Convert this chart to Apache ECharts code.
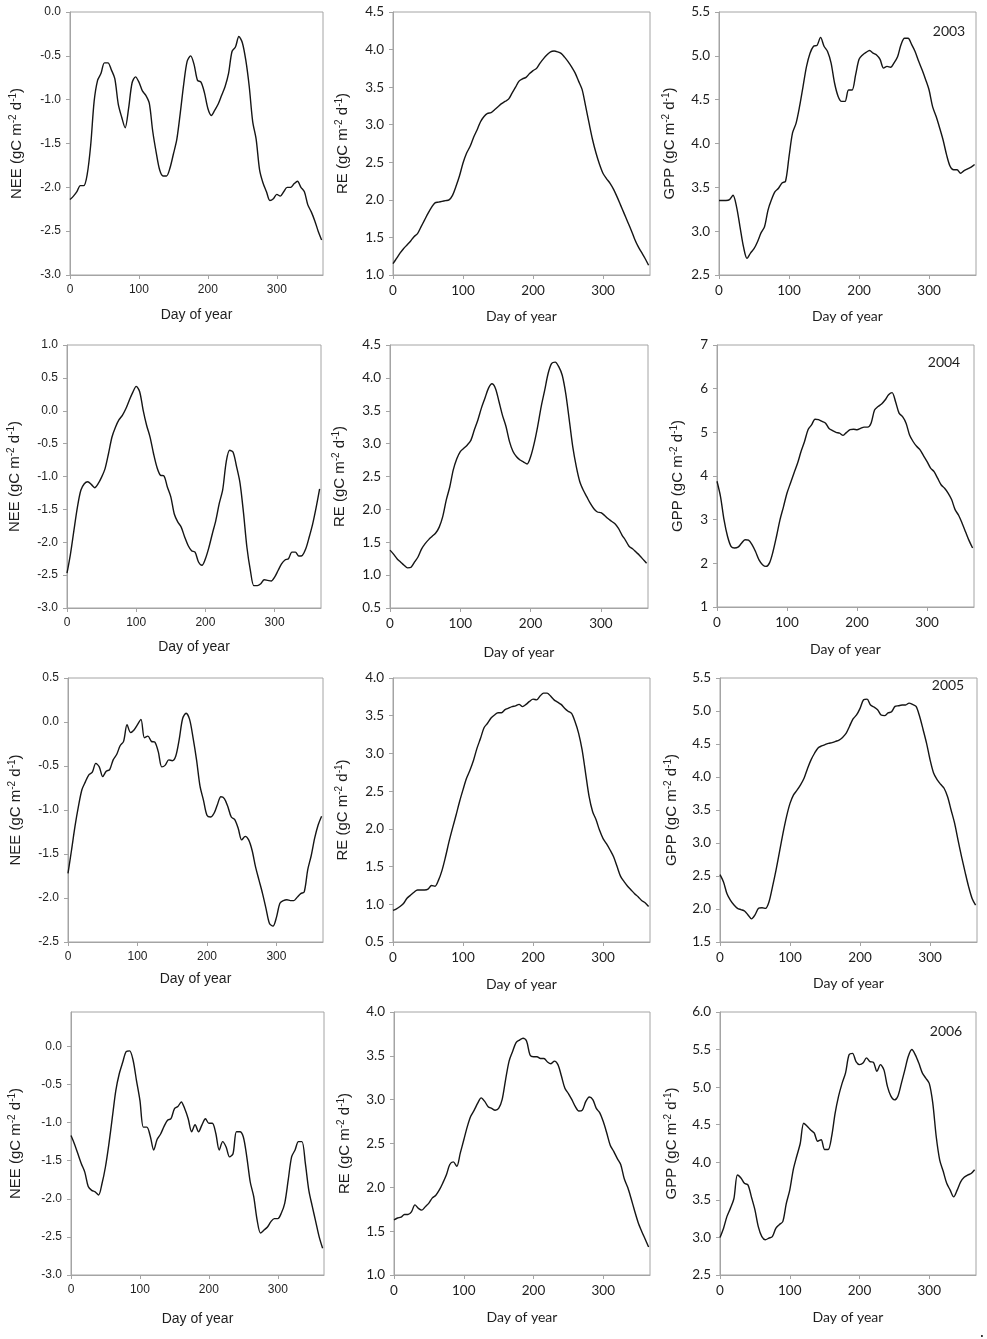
<!DOCTYPE html>
<html>
<head>
<meta charset="utf-8">
<title>NEE / RE / GPP 2003-2006</title>
<script src="https://cdn.jsdelivr.net/npm/echarts@6/dist/echarts.min.js"></script>
<style>
html, body { margin: 0; padding: 0; background: #fff; }
#chart { width: 987px; height: 1339px; }
</style>
</head>
<body>
<div id="chart"></div>
<script>
// day of year, one reading every 5 days
var days = [0, 5, 10, 15, 20, 25, 30, 35, 40, 45,
    50, 55, 60, 65, 70, 75, 80, 85, 90, 95,
    100, 105, 110, 115, 120, 125, 130, 135, 140, 145,
    150, 155, 160, 165, 170, 175, 180, 185, 190, 195,
    200, 205, 210, 215, 220, 225, 230, 235, 240, 245,
    250, 255, 260, 265, 270, 275, 280, 285, 290, 295,
    300, 305, 310, 315, 320, 325, 330, 335, 340, 345,
    350, 355, 360, 365];

var years = ['2003', '2004', '2005', '2006'];

var nee2003 = [-2.14, -2.10, -2.05, -1.98, -1.98, -1.85, -1.52, -1.02, -0.78, -0.70,
    -0.58, -0.58, -0.66, -0.76, -1.05, -1.20, -1.32, -1.10, -0.81, -0.74,
    -0.80, -0.90, -0.95, -1.04, -1.36, -1.60, -1.80, -1.87, -1.87, -1.78,
    -1.62, -1.45, -1.15, -0.82, -0.56, -0.50, -0.60, -0.78, -0.80, -0.92,
    -1.10, -1.18, -1.12, -1.05, -0.95, -0.85, -0.70, -0.45, -0.40, -0.28,
    -0.35, -0.55, -0.85, -1.25, -1.45, -1.80, -1.95, -2.05, -2.15, -2.13,
    -2.08, -2.10, -2.05, -2.00, -2.00, -1.96, -1.93, -2.00, -2.05, -2.20,
    -2.28, -2.38, -2.50, -2.60];
var re2003 = [1.15, 1.22, 1.29, 1.35, 1.40, 1.45, 1.51, 1.55, 1.64, 1.73,
    1.82, 1.90, 1.96, 1.97, 1.98, 1.99, 2.00, 2.06, 2.18, 2.32,
    2.49, 2.62, 2.71, 2.83, 2.93, 3.04, 3.11, 3.15, 3.16, 3.20,
    3.24, 3.28, 3.31, 3.34, 3.42, 3.50, 3.58, 3.61, 3.63, 3.68,
    3.72, 3.75, 3.82, 3.88, 3.93, 3.97, 3.98, 3.97, 3.95, 3.90,
    3.84, 3.77, 3.69, 3.58, 3.47, 3.25, 3.02, 2.80, 2.62, 2.47,
    2.35, 2.28, 2.22, 2.14, 2.04, 1.93, 1.82, 1.71, 1.60, 1.48,
    1.38, 1.30, 1.22, 1.13];
var gpp2003 = [3.35, 3.35, 3.35, 3.36, 3.41, 3.28, 3.05, 2.82, 2.69, 2.75,
    2.80, 2.88, 2.98, 3.05, 3.24, 3.36, 3.45, 3.49, 3.55, 3.57,
    3.85, 4.12, 4.23, 4.42, 4.65, 4.88, 5.03, 5.11, 5.12, 5.21,
    5.11, 5.05, 4.92, 4.69, 4.54, 4.48, 4.48, 4.61, 4.61, 4.78,
    4.96, 5.01, 5.04, 5.06, 5.03, 5.01, 4.96, 4.86, 4.88, 4.87,
    4.92, 4.99, 5.13, 5.20, 5.20, 5.13, 5.05, 4.94, 4.84, 4.73,
    4.61, 4.42, 4.31, 4.18, 4.04, 3.87, 3.74, 3.70, 3.70, 3.66,
    3.69, 3.71, 3.73, 3.76];

var nee2004 = [-2.47, -2.18, -1.82, -1.47, -1.21, -1.11, -1.08, -1.12, -1.17, -1.11,
    -1.01, -0.88, -0.65, -0.40, -0.25, -0.14, -0.07, 0.03, 0.16, 0.28,
    0.37, 0.29, 0.01, -0.22, -0.40, -0.65, -0.86, -0.98, -0.99, -1.16,
    -1.31, -1.57, -1.69, -1.77, -1.92, -2.05, -2.13, -2.15, -2.30, -2.35,
    -2.25, -2.08, -1.87, -1.67, -1.41, -1.20, -0.78, -0.60, -0.63, -0.85,
    -1.10, -1.55, -2.08, -2.43, -2.66, -2.66, -2.63, -2.57, -2.58, -2.59,
    -2.53, -2.43, -2.33, -2.27, -2.25, -2.15, -2.15, -2.21, -2.20, -2.10,
    -1.92, -1.72, -1.47, -1.19];
var re2004 = [1.38, 1.32, 1.25, 1.20, 1.15, 1.11, 1.12, 1.20, 1.28, 1.40,
    1.48, 1.54, 1.59, 1.64, 1.73, 1.89, 2.14, 2.34, 2.60, 2.77,
    2.88, 2.93, 2.98, 3.05, 3.21, 3.36, 3.54, 3.69, 3.84, 3.91,
    3.84, 3.64, 3.43, 3.26, 3.03, 2.88, 2.80, 2.75, 2.72, 2.69,
    2.80, 3.00, 3.26, 3.56, 3.81, 4.07, 4.22, 4.24, 4.17, 4.04,
    3.76, 3.36, 2.95, 2.65, 2.42, 2.29, 2.19, 2.09, 2.01, 1.96,
    1.95, 1.91, 1.86, 1.82, 1.78, 1.71, 1.61, 1.53, 1.44, 1.40,
    1.35, 1.30, 1.24, 1.18];
var gpp2004 = [3.88, 3.53, 3.00, 2.62, 2.39, 2.35, 2.37, 2.46, 2.54, 2.53,
    2.43, 2.27, 2.08, 1.97, 1.93, 2.01, 2.27, 2.62, 3.00, 3.30,
    3.61, 3.84, 4.07, 4.29, 4.56, 4.79, 5.06, 5.17, 5.30, 5.29,
    5.25, 5.21, 5.09, 5.04, 5.00, 4.98, 4.93, 5.00, 5.06, 5.07,
    5.06, 5.09, 5.12, 5.12, 5.21, 5.51, 5.59, 5.65, 5.74, 5.86,
    5.91, 5.70, 5.44, 5.36, 5.21, 4.94, 4.79, 4.68, 4.60, 4.46,
    4.33, 4.18, 4.10, 3.95, 3.80, 3.72, 3.61, 3.46, 3.23, 3.10,
    2.92, 2.72, 2.52, 2.35];

var nee2005 = [-1.72, -1.46, -1.19, -0.96, -0.77, -0.68, -0.60, -0.57, -0.47, -0.51,
    -0.62, -0.56, -0.54, -0.43, -0.37, -0.27, -0.22, -0.03, -0.12, -0.09,
    -0.03, 0.03, -0.18, -0.16, -0.22, -0.23, -0.34, -0.51, -0.49, -0.43,
    -0.44, -0.39, -0.20, 0.04, 0.10, 0.03, -0.18, -0.43, -0.73, -0.89,
    -1.06, -1.08, -1.04, -0.94, -0.85, -0.87, -0.96, -1.08, -1.11, -1.21,
    -1.34, -1.30, -1.34, -1.46, -1.65, -1.80, -1.95, -2.12, -2.29, -2.32,
    -2.22, -2.06, -2.03, -2.02, -2.03, -2.03, -1.99, -1.95, -1.93, -1.68,
    -1.52, -1.32, -1.17, -1.07];
var re2005 = [0.92, 0.94, 0.97, 1.01, 1.08, 1.12, 1.16, 1.19, 1.19, 1.19,
    1.20, 1.25, 1.24, 1.32, 1.45, 1.63, 1.83, 2.01, 2.18, 2.36,
    2.52, 2.67, 2.78, 2.91, 3.07, 3.20, 3.34, 3.40, 3.47, 3.51,
    3.54, 3.54, 3.58, 3.60, 3.62, 3.63, 3.65, 3.62, 3.65, 3.69,
    3.72, 3.71, 3.76, 3.80, 3.80, 3.76, 3.71, 3.68, 3.65, 3.60,
    3.56, 3.53, 3.42, 3.27, 3.05, 2.74, 2.43, 2.23, 2.12, 1.98,
    1.87, 1.80, 1.72, 1.63, 1.50, 1.37, 1.30, 1.24, 1.19, 1.14,
    1.10, 1.05, 1.02, 0.97];
var gpp2005 = [2.52, 2.41, 2.23, 2.13, 2.06, 2.01, 1.99, 1.97, 1.91, 1.85,
    1.91, 2.01, 2.02, 2.01, 2.11, 2.34, 2.59, 2.87, 3.15, 3.40,
    3.60, 3.73, 3.80, 3.88, 3.98, 4.13, 4.26, 4.36, 4.44, 4.47,
    4.49, 4.51, 4.52, 4.54, 4.56, 4.60, 4.66, 4.77, 4.88, 4.94,
    5.04, 5.17, 5.18, 5.09, 5.06, 5.02, 4.94, 4.93, 4.97, 4.99,
    5.07, 5.08, 5.09, 5.09, 5.12, 5.10, 5.07, 4.92, 4.72, 4.51,
    4.26, 4.06, 3.96, 3.89, 3.83, 3.70, 3.50, 3.30, 3.04, 2.79,
    2.56, 2.34, 2.16, 2.06];

var nee2006 = [-1.17, -1.28, -1.41, -1.54, -1.65, -1.84, -1.89, -1.91, -1.95, -1.80,
    -1.58, -1.28, -0.93, -0.58, -0.36, -0.21, -0.07, -0.06, -0.18, -0.45,
    -0.71, -1.06, -1.06, -1.18, -1.36, -1.22, -1.15, -1.05, -0.97, -0.95,
    -0.82, -0.79, -0.73, -0.82, -0.95, -1.12, -1.03, -1.12, -1.03, -0.95,
    -1.01, -1.01, -1.14, -1.36, -1.25, -1.32, -1.45, -1.41, -1.12, -1.12,
    -1.19, -1.45, -1.78, -1.97, -2.28, -2.45, -2.41, -2.37, -2.30, -2.26,
    -2.26, -2.19, -2.06, -1.76, -1.45, -1.36, -1.25, -1.25, -1.54, -1.89,
    -2.10, -2.30, -2.50, -2.65];
var re2006 = [1.63, 1.65, 1.66, 1.69, 1.69, 1.72, 1.80, 1.76, 1.74, 1.78,
    1.82, 1.88, 1.91, 1.97, 2.05, 2.14, 2.26, 2.29, 2.24, 2.39,
    2.54, 2.69, 2.81, 2.88, 2.96, 3.02, 2.98, 2.92, 2.90, 2.88,
    2.90, 3.00, 3.23, 3.44, 3.55, 3.65, 3.68, 3.70, 3.67, 3.51,
    3.49, 3.49, 3.47, 3.47, 3.43, 3.41, 3.44, 3.40, 3.27, 3.13,
    3.07, 3.00, 2.92, 2.87, 2.88, 2.98, 3.03, 3.00, 2.90, 2.85,
    2.75, 2.62, 2.48, 2.41, 2.33, 2.26, 2.10, 2.00, 1.87, 1.73,
    1.60, 1.50, 1.41, 1.32];
var gpp2006 = [3.00, 3.12, 3.28, 3.39, 3.52, 3.83, 3.79, 3.72, 3.70, 3.54,
    3.37, 3.14, 3.01, 2.97, 2.99, 3.01, 3.12, 3.17, 3.21, 3.45,
    3.63, 3.90, 4.08, 4.25, 4.52, 4.48, 4.43, 4.39, 4.28, 4.30,
    4.17, 4.17, 4.34, 4.65, 4.88, 5.05, 5.19, 5.43, 5.45, 5.34,
    5.30, 5.32, 5.39, 5.34, 5.33, 5.21, 5.30, 5.23, 5.01, 4.88,
    4.83, 4.88, 5.05, 5.23, 5.41, 5.50, 5.43, 5.32, 5.19, 5.12,
    5.05, 4.79, 4.34, 4.03, 3.88, 3.72, 3.63, 3.54, 3.63, 3.74,
    3.80, 3.83, 3.85, 3.90];

/*==========================================
 * panel layout: box = [left, top, width, height] in px
 */
var panels = [
    { values: nee2003, label: 'NEE', col: 0, box: [70, 12, 253, 263], y: [-3, 0, 0.5], yGap: 45, xGap: 33 },
    { values: re2003, label: 'RE', col: 1, box: [393, 12, 257, 263], y: [1, 4.5, 0.5], yGap: 42, xGap: 34 },
    { values: gpp2003, label: 'GPP', col: 2, box: [719, 12, 257, 263], y: [2.5, 5.5, 0.5], yGap: 41, xGap: 34 },

    { values: nee2004, label: 'NEE', col: 0, box: [67, 345, 254, 263], y: [-3, 1, 0.5], yGap: 44, xGap: 32 },
    { values: re2004, label: 'RE', col: 1, box: [390, 345, 258, 263], y: [0.5, 4.5, 0.5], yGap: 42, xGap: 37 },
    { values: gpp2004, label: 'GPP', col: 2, box: [717, 345, 257, 262], y: [1, 7, 1], yGap: 31, xGap: 35, whole: true },

    { values: nee2005, label: 'NEE', col: 0, box: [68, 678, 255, 264], y: [-2.5, 0.5, 0.5], yGap: 44, xGap: 30 },
    { values: re2005, label: 'RE', col: 1, box: [393, 678, 257, 264], y: [0.5, 4, 0.5], yGap: 42, xGap: 35 },
    { values: gpp2005, label: 'GPP', col: 2, box: [720, 678, 257, 264], y: [1.5, 5.5, 0.5], yGap: 40, xGap: 34 },

    { values: nee2006, label: 'NEE', col: 0, box: [71, 1012, 253, 263], y: [-3, 0.45, 0.5], yGap: 47, xGap: 37 },
    { values: re2006, label: 'RE', col: 1, box: [394, 1012, 256, 263], y: [1, 4, 0.5], yGap: 41, xGap: 35 },
    { values: gpp2006, label: 'GPP', col: 2, box: [720, 1012, 256, 263], y: [2.5, 6, 0.5], yGap: 40, xGap: 35 }
];

var yearPos = [[949, 31], [944, 362], [948, 685], [946, 1031]];

var AXIS_COLOR = '#a4a4a4';
var TEXT_COLOR = '#1e1e1e';

/*==========================================
 * 字体: y title in Arial-like, ticks differ per column
 */
function tickFont(col) {
    return col == 0 ? 'Liberation Sans' : 'Lato';
};

function yTitle(label) {
    return '{n|' + label + ' (gC m}{s|-2}{n| d}{s|-1}{n|)}';
};

function makePanel(p, i, out) {
    var font = tickFont(p.col);
    var tickSize = p.col == 0 ? 12 : 13.5;

    out.grid.push({
        left: p.box[0],
        top: p.box[1],
        width: p.box[2],
        height: p.box[3],
        show: true,
        borderColor: AXIS_COLOR,
        borderWidth: 1,
        outerBoundsMode: 'none'
    });

    out.xAxis.push({
        type: 'value',
        gridIndex: i,
        min: 0,
        max: 367,
        interval: 100,
        name: 'Day of year',
        nameLocation: 'middle',
        nameGap: p.xGap,
        nameTextStyle: { fontFamily: font, fontSize: 14, color: TEXT_COLOR },
        axisLine: { onZero: false, lineStyle: { color: AXIS_COLOR, width: 1 } },
        axisTick: { length: 4, lineStyle: { color: AXIS_COLOR } },
        axisLabel: { fontFamily: font, fontSize: tickSize, color: TEXT_COLOR, margin: 9, showMaxLabel: false },
        splitLine: { show: false }
    });

    var supStyle = { fontFamily: 'Liberation Sans', fontSize: 10, lineHeight: 11, verticalAlign: 'top', color: TEXT_COLOR };
    var nStyle = { fontFamily: 'Liberation Sans', fontSize: 15, lineHeight: 17, color: TEXT_COLOR };

    out.yAxis.push({
        type: 'value',
        gridIndex: i,
        min: p.y[0],
        max: p.y[1],
        interval: p.y[2],
        name: yTitle(p.label),
        nameLocation: 'middle',
        nameRotate: 90,
        nameGap: p.yGap,
        nameTextStyle: { fontFamily: 'Liberation Sans', fontSize: 15, color: TEXT_COLOR, rich: { n: nStyle, s: supStyle } },
        axisLine: { show: true, onZero: false, lineStyle: { color: AXIS_COLOR, width: 1 } },
        axisTick: { show: true, length: 4, lineStyle: { color: AXIS_COLOR } },
        axisLabel: {
            fontFamily: font,
            fontSize: tickSize,
            color: TEXT_COLOR,
            margin: 9,
            showMaxLabel: p.y[1] / p.y[2] == Math.round(p.y[1] / p.y[2]),
            formatter: function(v) {
                return p.whole ? String(Math.round(v)) : v.toFixed(1);
            }
        },
        splitLine: { show: false }
    });

    var pts = [];
    for (var k = 0, l = days.length; k < l; k++) {
        pts.push([days[k], p.values[k]]);
    };

    out.series.push({
        type: 'line',
        xAxisIndex: i,
        yAxisIndex: i,
        data: pts,
        showSymbol: false,
        smooth: 0.3,
        lineStyle: { color: '#151515', width: 1.4 },
        silent: true,
        animation: false
    });
};

function buildOption() {
    var out = { grid: [], xAxis: [], yAxis: [], series: [] };
    for (var i = 0; i < panels.length; i++) {
        makePanel(panels[i], i, out);
    };

    var texts = [];
    for (var j = 0; j < years.length; j++) {
        texts.push({
            type: 'text',
            x: yearPos[j][0],
            y: yearPos[j][1],
            style: {
                text: years[j],
                fill: TEXT_COLOR,
                font: '14px Lato',
                textAlign: 'center',
                textVerticalAlign: 'middle',
                align: 'center',
                verticalAlign: 'middle'
            }
        });
    };
    texts.push({
        type: 'text', x: 982, y: 1328,
        style: { text: '.', fill: TEXT_COLOR, font: 'bold 12px Liberation Sans', textAlign: 'center', align: 'center' }
    });

    return {
        backgroundColor: '#fff',
        animation: false,
        grid: out.grid,
        xAxis: out.xAxis,
        yAxis: out.yAxis,
        series: out.series,
        graphic: texts
    };
};

var myChart = echarts.init(document.getElementById('chart'));
myChart.setOption(buildOption());
</script>
</body>
</html>
